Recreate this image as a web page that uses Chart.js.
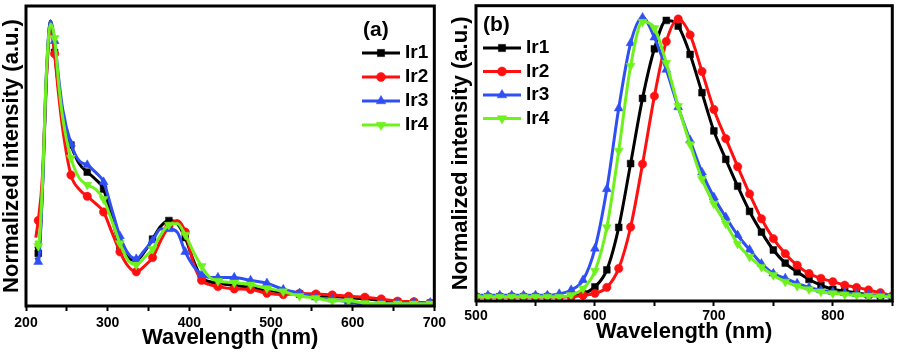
<!DOCTYPE html>
<html>
<head>
<meta charset="utf-8">
<script src="https://cdn.jsdelivr.net/npm/chart.js@4.4.1/dist/chart.umd.min.js"></script>
<style>
  body { margin: 0; background: #fff; }
  #wrapA { position: absolute; left: 0; top: 0; width: 450px; height: 352px; }
  #wrapB { position: absolute; left: 448px; top: 0; width: 450px; height: 352px; }
</style>
</head>
<body>
<div id="wrapA"><canvas id="chartA" width="450" height="352"></canvas></div>
<div id="wrapB"><canvas id="chartB" width="450" height="352"></canvas></div>
<script>
// (a) absorption, wavelength in nm
var wavelengthA = [212, 215, 220, 225, 230, 235, 240, 245, 255, 265, 275, 285, 295, 305, 315, 325, 335, 345, 355, 365,
	375, 385, 395, 405, 415, 425, 435, 455, 475, 495, 515, 535, 555, 575, 595, 615, 635, 655, 675, 695, 700];
var absIr1 = [0.21, 0.185, 0.40, 0.80, 1.00, 0.89, 0.76, 0.66, 0.565, 0.50, 0.47, 0.445, 0.41, 0.31, 0.21, 0.17, 0.16, 0.19, 0.235, 0.28,
	0.30, 0.29, 0.24, 0.16, 0.10, 0.085, 0.08, 0.072, 0.065, 0.055, 0.048, 0.042, 0.038, 0.034, 0.03, 0.025, 0.02, 0.015, 0.012, 0.01, 0.01];
var absIr2 = [0.24, 0.30, 0.45, 0.80, 0.98, 0.885, 0.74, 0.62, 0.46, 0.41, 0.385, 0.36, 0.33, 0.26, 0.19, 0.14, 0.12, 0.14, 0.17, 0.23,
	0.28, 0.30, 0.26, 0.15, 0.09, 0.075, 0.068, 0.06, 0.058, 0.045, 0.04, 0.044, 0.042, 0.039, 0.034, 0.031, 0.025, 0.017, 0.015, 0.01, 0.01];
var absIr3 = [0.17, 0.155, 0.40, 0.82, 1.00, 0.93, 0.80, 0.69, 0.57, 0.51, 0.495, 0.47, 0.435, 0.34, 0.245, 0.185, 0.165, 0.195, 0.23, 0.27,
	0.27, 0.26, 0.19, 0.14, 0.11, 0.10, 0.10, 0.10, 0.09, 0.08, 0.058, 0.045, 0.03, 0.023, 0.015, 0.006, 0.008, 0.012, 0.012, 0.012, 0.012];
var absIr4 = [0.23, 0.21, 0.42, 0.82, 0.99, 0.94, 0.78, 0.66, 0.52, 0.45, 0.425, 0.41, 0.375, 0.30, 0.22, 0.16, 0.145, 0.17, 0.20, 0.25,
	0.285, 0.29, 0.25, 0.19, 0.14, 0.10, 0.088, 0.082, 0.075, 0.062, 0.051, 0.035, 0.028, 0.018, 0.018, 0.01, 0.008, 0.008, 0.008, 0.008, 0.008];

// (b) emission, every 10 nm from 500 to 850
var wavelengthB = [500, 510, 520, 530, 540, 550, 560, 570, 580, 590, 600, 610, 620, 630, 640, 650, 660, 670,
	680, 690, 700, 710, 720, 730, 740, 750, 760, 770, 780, 790, 800, 810, 820, 830, 840, 850];
var emIr1 = [0.015, 0.015, 0.015, 0.015, 0.015, 0.015, 0.015, 0.015, 0.018, 0.025, 0.05, 0.11, 0.26, 0.485, 0.715, 0.89, 0.99, 0.97,
	0.87, 0.735, 0.60, 0.50, 0.405, 0.316, 0.243, 0.18, 0.134, 0.103, 0.076, 0.056, 0.041, 0.035, 0.028, 0.022, 0.018, 0.015];
var emIr2 = [0.015, 0.015, 0.015, 0.015, 0.015, 0.015, 0.015, 0.015, 0.015, 0.02, 0.027, 0.048, 0.115, 0.261, 0.483, 0.723, 0.916, 0.995,
	0.939, 0.81, 0.676, 0.573, 0.474, 0.378, 0.29, 0.22, 0.167, 0.126, 0.097, 0.08, 0.068, 0.056, 0.048, 0.039, 0.029, 0.018];
var emIr3 = [0.02, 0.02, 0.02, 0.02, 0.02, 0.02, 0.02, 0.025, 0.039, 0.074, 0.185, 0.395, 0.68, 0.91, 1.0, 0.93, 0.816, 0.684,
	0.567, 0.454, 0.366, 0.296, 0.232, 0.181, 0.132, 0.097, 0.08, 0.062, 0.048, 0.038, 0.032, 0.028, 0.025, 0.022, 0.02, 0.018];
var emIr4 = [0.015, 0.015, 0.015, 0.015, 0.015, 0.015, 0.015, 0.015, 0.021, 0.044, 0.106, 0.26, 0.53, 0.83, 0.985, 0.963, 0.84, 0.688,
	0.553, 0.43, 0.343, 0.273, 0.202, 0.156, 0.12, 0.091, 0.068, 0.053, 0.041, 0.033, 0.027, 0.023, 0.02, 0.018, 0.016, 0.015];

var seriesNames = ['Ir1', 'Ir2', 'Ir3', 'Ir4'];
var colors = ['#000000', '#ff1010', '#2f4ff5', '#6ff21c'];
var FONT = '"Liberation Sans", Arial, sans-serif';

// look of each series: marker style, size, rotation, draw order
var looks = [
	{ style: 'rect', r: 4.8, rot: 0, order: 3 },
	{ style: 'circle', r: 4.2, rot: 0, order: 2 },
	{ style: 'triangle', r: 5.2, rot: 0, order: 1 },
	{ style: 'triangle', r: 5.2, rot: 180, order: 0 }
];

function makeSets(xs, ys, markerTest) {
	return ys.map(function(vals, i) {
		var lk = looks[i];
		return {
			label: seriesNames[i],
			data: vals.map(function(v, j) { return { x: xs[j], y: v }; }),
			borderColor: colors[i],
			backgroundColor: colors[i],
			borderWidth: 3,
			pointStyle: lk.style,
			pointRotation: lk.rot,
			pointBorderWidth: 0.5,
			pointRadius: function(ctx) { return markerTest(xs[ctx.dataIndex]) ? lk.r : 0; },
			legendRadius: lk.r + 0.3,
			cubicInterpolationMode: 'monotone',
			order: lk.order
		};
	});
}

// black frame round the plot area
var framePlugin = {
	id: 'frame',
	afterDatasetsDraw: function(chart) {
		var a = chart.chartArea, ctx = chart.ctx;
		ctx.save();
		ctx.strokeStyle = '#000';
		ctx.lineWidth = 3;
		ctx.strokeRect(a.left, a.top, a.right - a.left, a.bottom - a.top);
		ctx.restore();
	}
};

// legend drawn inside the plot, line with marker then name
var insideLegend = {
	id: 'insideLegend',
	afterDraw: function(chart, args, opts) {
		var ctx = chart.ctx;
		ctx.save();
		ctx.textBaseline = 'middle';
		ctx.fillStyle = '#000';
		ctx.font = 'bold 21px ' + FONT;
		ctx.fillText(opts.tag, opts.tagX, opts.tagY);
		ctx.font = 'bold 19px ' + FONT;
		chart.data.datasets.forEach(function(ds, i) {
			var y = opts.y + i * opts.gap;
			ctx.strokeStyle = ds.borderColor;
			ctx.lineWidth = 3.2;
			ctx.beginPath();
			ctx.moveTo(opts.x, y);
			ctx.lineTo(opts.x + opts.len, y);
			ctx.stroke();
			ctx.fillStyle = ds.backgroundColor;
			ctx.lineWidth = 0.5;
			Chart.helpers.drawPoint(ctx, { pointStyle: ds.pointStyle, rotation: ds.pointRotation, radius: ds.legendRadius, borderWidth: 0.5 },
				opts.x + opts.len / 2, y);
			ctx.fillStyle = '#000';
			ctx.fillText(ds.label, opts.x + opts.len + 5, y);
		});
		ctx.restore();
	}
};

function makeOptions(cfg) {
	return {
		responsive: false,
		animation: false,
		layout: { padding: { top: cfg.top, right: cfg.right, left: 0, bottom: 0 } },
		plugins: {
			legend: { display: false },
			tooltip: { enabled: false },
			insideLegend: cfg.legend
		},
		scales: {
			x: {
				type: 'linear',
				min: cfg.xmin,
				max: cfg.xmax,
				afterFit: function(scale) { scale.height = cfg.xh; },
				border: { display: false },
				grid: { drawOnChartArea: false, drawTicks: true, tickLength: 5, tickWidth: 2, tickColor: '#000' },
				ticks: {
					stepSize: 50,
					padding: cfg.tickPad,
					color: '#000',
					font: { family: FONT, size: 14, weight: 'bold' },
					maxRotation: 0,
					callback: function(v) { return (v % 100 === 0 && v <= cfg.lastLabel) ? v : ''; }
				},
				title: {
					display: true,
					text: 'Wavelength (nm)',
					color: '#000',
					font: { family: FONT, size: 22, weight: 'bold', lineHeight: 1 },
					padding: { top: 0, bottom: cfg.titlePadB }
				}
			},
			y: {
				min: 0,
				max: cfg.ymax,
				afterFit: function(scale) { scale.width = cfg.yw; },
				border: { display: false },
				grid: { display: false, drawTicks: false },
				ticks: { display: false },
				title: {
					display: true,
					text: 'Normalized intensity (a.u.)',
					color: '#000',
					font: { family: FONT, size: 22, weight: 'bold', lineHeight: 1 },
					padding: { top: cfg.yTitlePad, bottom: 0 }
				}
			}
		}
	};
}

var onA = function(x) { return x >= 215 && (x - 215) % 20 === 0; };
var onB = function(x) { return true; };

new Chart(document.getElementById('chartA'), {
	type: 'line',
	data: { datasets: makeSets(wavelengthA, [absIr1, absIr2, absIr3, absIr4], onA) },
	options: makeOptions({
		top: 6, right: 15, xmin: 200, xmax: 700, xh: 46, yw: 26, ymax: 1.053,
		tickPad: 4, titlePadB: 3, yTitlePad: 1, lastLabel: 700,
		legend: { tag: '(a)', tagX: 363, tagY: 30, x: 362, y: 53, gap: 24, len: 38 }
	}),
	plugins: [framePlugin, insideLegend]
});

new Chart(document.getElementById('chartB'), {
	type: 'line',
	data: { datasets: makeSets(wavelengthB, [emIr1, emIr2, emIr3, emIr4], onB) },
	options: makeOptions({
		top: 4, right: 4, xmin: 500, xmax: 850, xh: 51, yw: 28, ymax: 1.042,
		tickPad: 2, titlePadB: 9, yTitlePad: 2, lastLabel: 800,
		legend: { tag: '(b)', tagX: 35, tagY: 25, x: 35, y: 48, gap: 23.5, len: 38 }
	}),
	plugins: [framePlugin, insideLegend]
});
</script>
</body>
</html>
